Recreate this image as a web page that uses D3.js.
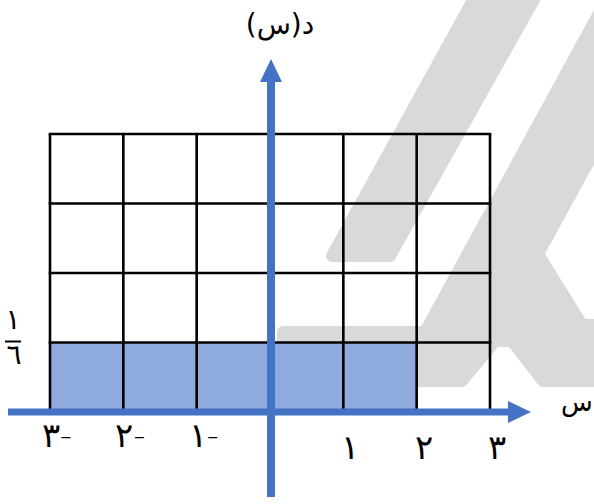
<!DOCTYPE html>
<html>
<head>
<meta charset="utf-8">
<script src="https://cdn.jsdelivr.net/npm/d3@7"></script>
<style>body{margin:0;background:#fff}</style>
</head>
<body>
<svg width="594" height="504" id="mainsvg"></svg>
<script>
// data
const xTicks = [-3, -2, -1, 1, 2, 3];
const xTickLabels = ['٣-', '٢-', '١-', '١', '٢', '٣'];
const gridX = [-3, -2, -1, 0, 1, 2, 3];
const gridY = [0, 1/6, 2/6, 3/6, 4/6];
const shadedFrom = -3, shadedTo = 2, shadedValue = 1/6;
const yTickNum = '١', yTickDen = '٦';
const xTitle = 'س', yTitle = 'د(س)';

const svg = d3.select('#mainsvg');
const font = "'DejaVu Sans', sans-serif";
const blue = '#4472c4';

const xScale = d3.scaleLinear().domain([-3, 3]).range([50, 490]);
const yScale = d3.scaleLinear().domain([0, 4/6]).range([412, 134]);

// background watermark
const wm = svg.append('g').attr('fill', '#d9d9d9').attr('stroke', '#d9d9d9')
    .attr('stroke-width', 12).attr('stroke-linejoin', 'round');
const line = d3.line();
wm.append('path').attr('d', line([[484, -20], [545, -20], [390, 256], [332, 256]]) + 'Z');
wm.append('path').attr('d', line([
    [283, 332], [425, 332], [617, -20], [688, -20], [538, 254],
    [582, 325], [700, 325], [700, 381], [543, 381], [512, 341],
    [495, 341], [462, 381], [283, 381]
]) + 'Z');

// shaded region
svg.append('rect')
    .attr('x', xScale(shadedFrom))
    .attr('y', yScale(shadedValue))
    .attr('width', xScale(shadedTo) - xScale(shadedFrom))
    .attr('height', yScale(0) - yScale(shadedValue))
    .attr('fill', '#8faadc');

// grid
const grid = svg.append('g').attr('stroke', '#000').attr('stroke-width', 2.6);
gridX.forEach(v => {
    grid.append('line')
        .attr('x1', xScale(v)).attr('x2', xScale(v))
        .attr('y1', yScale(d3.max(gridY))).attr('y2', yScale(0));
});
gridY.forEach(v => {
    grid.append('line')
        .attr('x1', xScale(-3) - 1.3).attr('x2', xScale(3) + 1.3)
        .attr('y1', yScale(v)).attr('y2', yScale(v));
});

// axes with arrows
const x0 = xScale(0) + 1, y0 = yScale(0);
svg.append('line').attr('x1', x0).attr('x2', x0).attr('y1', 497).attr('y2', 80)
    .attr('stroke', blue).attr('stroke-width', 8);
svg.append('path').attr('fill', blue)
    .attr('d', line([[x0 - 11, 82], [x0, 59], [x0 + 11, 82]]) + 'Z');
svg.append('line').attr('x1', 8).attr('x2', 510).attr('y1', y0).attr('y2', y0)
    .attr('stroke', blue).attr('stroke-width', 7);
svg.append('path').attr('fill', blue)
    .attr('d', line([[508, y0 - 11], [531, y0], [508, y0 + 11]]) + 'Z');

// tick labels
svg.append('g').selectAll('text').data(xTicks).join('text')
    .attr('x', d => xScale(d) + 7)
    .attr('y', d => d < 0 ? 447 : 459)
    .attr('text-anchor', 'middle')
    .attr('font-family', font).attr('font-size', 34).attr('font-weight', 300)
    .text((d, i) => xTickLabels[i]);

// y tick fraction
const fy = yScale(shadedValue);
svg.append('text').text(yTickNum).attr('x', 13).attr('y', fy - 14)
    .attr('text-anchor', 'middle').attr('font-family', font).attr('font-size', 28);
svg.append('line').attr('x1', 5).attr('x2', 21).attr('y1', fy - 1).attr('y2', fy - 1)
    .attr('stroke', '#000').attr('stroke-width', 2);
svg.append('text').text(yTickDen).attr('x', 14).attr('y', fy + 21)
    .attr('text-anchor', 'middle').attr('font-family', font).attr('font-size', 28);

// titles
svg.append('text').text(yTitle).attr('x', 280).attr('y', 34)
    .attr('text-anchor', 'middle').attr('font-family', font).attr('font-size', 28);
svg.append('text').text(xTitle).attr('x', 561).attr('y', 411)
    .attr('font-family', font).attr('font-size', 26);
</script>
</body>
</html>
